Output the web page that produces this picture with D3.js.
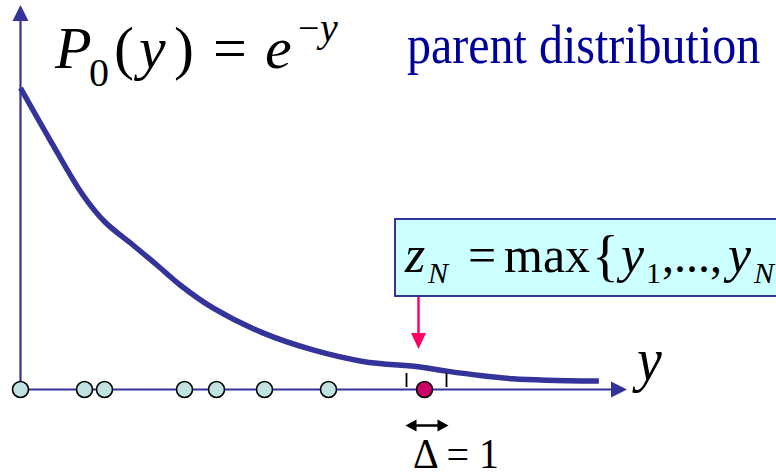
<!DOCTYPE html>
<html>
<head>
<meta charset="utf-8">
<script src="https://cdn.jsdelivr.net/npm/d3@7"></script>
<style>
  html, body { margin: 0; padding: 0; background: #fff; }
  svg { display: block; }
</style>
</head>
<body>
<svg id="chart" width="776" height="476"></svg>
<script>
// Parent density P0(y) = e^{-y}, sketched as a smooth decaying curve
const curveY = [0, 0.74, 1.56, 2.11, 2.81, 3.41, 3.99, 4.81, 6.06, 7.31, 8.56, 9.99, 10.66, 11.49, 12.31, 13.16, 14.46];
const curveP = [1.0, 0.823, 0.636, 0.544, 0.466, 0.398, 0.330, 0.252, 0.167, 0.109, 0.070, 0.051, 0.037, 0.022, 0.011, 0.006, 0.003];

// N samples drawn from the parent, and their maximum z_N
const samples = [0, 1.6, 2.1, 4.1, 4.9, 6.1, 7.7];
const maxSample = 10.1;
// bin of width Δ = 1 around the maximum
const binEdges = [9.65, 10.65];

const blue = "#333399";
const serif = "'Liberation Serif', 'Times New Roman', 'DejaVu Serif', serif";
const svg = d3.select("#chart");

const x = d3.scaleLinear().domain([0, 1]).range([20.5, 60.5]);
const yP = d3.scaleLinear().domain([0, 1]).range([382, 88]);
const axisY = 389.5;

// axes with arrowheads
svg.append("line").attr("x1", x(0)).attr("x2", 614).attr("y1", axisY).attr("y2", axisY)
  .attr("stroke", blue).attr("stroke-width", 2.2);
svg.append("path").attr("d", `M627,${axisY} L611,${axisY - 8} L611,${axisY + 8} Z`).attr("fill", blue);
svg.append("line").attr("x1", x(0)).attr("x2", x(0)).attr("y1", axisY).attr("y2", 18)
  .attr("stroke", blue).attr("stroke-width", 2.2);
svg.append("path").attr("d", `M${x(0)},5 L${x(0) - 8},21 L${x(0) + 8},21 Z`).attr("fill", blue);

// density curve
const line = d3.line().x((d, i) => x(curveY[i])).y(d => yP(d)).curve(d3.curveCatmullRom.alpha(0.5));
svg.append("path").attr("d", line(curveP)).attr("fill", "none")
  .attr("stroke", blue).attr("stroke-width", 5.5).attr("stroke-linecap", "butt");

// bin edges of width Δ
svg.selectAll("line.bin").data(binEdges).join("line").attr("class", "bin")
  .attr("x1", d => x(d)).attr("x2", d => x(d)).attr("y1", 373).attr("y2", 387)
  .attr("stroke", "#000").attr("stroke-width", 1.8);

// sample points
svg.selectAll("circle.s").data(samples).join("circle").attr("class", "s")
  .attr("cx", d => x(d)).attr("cy", axisY).attr("r", 8)
  .attr("fill", "#bfe3e3").attr("stroke", "#000").attr("stroke-width", 1.6);
svg.append("circle").attr("cx", x(maxSample)).attr("cy", axisY).attr("r", 8)
  .attr("fill", "#cc0066").attr("stroke", "#000").attr("stroke-width", 1.6);

// Δ double arrow
const ax0 = x(binEdges[0]) - 1, ax1 = x(binEdges[1]) + 2, ay = 425.5;
svg.append("line").attr("x1", ax0 + 8).attr("x2", ax1 - 8).attr("y1", ay).attr("y2", ay)
  .attr("stroke", "#000").attr("stroke-width", 2.5);
svg.append("path").attr("d", `M${ax0},${ay} L${ax0 + 11},${ay - 6} L${ax0 + 11},${ay + 6} Z`).attr("fill", "#000");
svg.append("path").attr("d", `M${ax1},${ay} L${ax1 - 11},${ay - 6} L${ax1 - 11},${ay + 6} Z`).attr("fill", "#000");

// helper: serif text piece, optionally stretched vertically
function txt(s, tx, ty, size, opts = {}) {
  return svg.append("text")
    .attr("transform", `translate(${tx},${ty}) scale(1,${opts.sy || 1})`)
    .attr("font-family", serif)
    .attr("font-size", size)
    .attr("font-style", opts.italic ? "italic" : "normal")
    .attr("fill", opts.fill || "#000")
    .text(s);
}

txt("Δ = 1", 413, 468, 40, { sy: 1.08 });
txt("y", 637, 380, 56, { italic: true, sy: 1.1 });

// title formula
txt("P", 55, 68, 60, { italic: true });
txt("0", 89, 86, 40);
txt("(", 114, 68, 60);
txt("y", 139, 68, 60, { italic: true });
txt(")", 174, 68, 60);
txt("=", 213, 68, 60);
txt("e", 265, 68, 60, { italic: true });
txt("−", 298, 41, 38);
txt("y", 320, 41, 40, { italic: true });

txt("parent distribution", 407, 63, 48, { fill: "#000099", sy: 1.15 });

// annotation box for z_N
svg.append("rect").attr("x", 395).attr("y", 219).attr("width", 400).attr("height", 77)
  .attr("fill", "#ccffff").attr("stroke", blue).attr("stroke-width", 2);
txt("z", 405, 272, 52, { italic: true });
txt("N", 428, 283, 30, { italic: true });
txt("=", 468, 272, 50);
txt("max", 504, 272, 50);
txt("{", 592, 275, 56);
txt("y", 621, 272, 52, { italic: true });
txt("1", 646, 283, 30);
txt(",...,", 662, 272, 48);
txt("y", 728, 272, 52, { italic: true });
txt("N", 754, 283, 30, { italic: true });

// pointer to the maximum
const px = x(maxSample) - 6;
svg.append("line").attr("x1", px).attr("x2", px).attr("y1", 297).attr("y2", 336)
  .attr("stroke", "#ff0066").attr("stroke-width", 2.5);
svg.append("path").attr("d", `M${px},349 L${px - 7.5},333 L${px + 7.5},333 Z`).attr("fill", "#ff0066");
</script>
</body>
</html>
